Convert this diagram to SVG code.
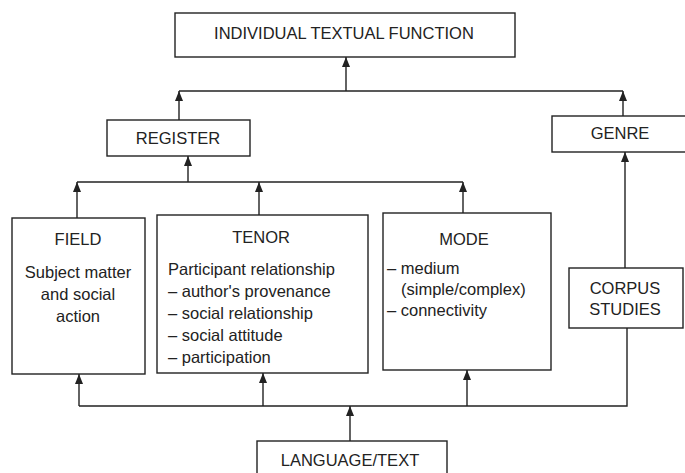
<svg xmlns="http://www.w3.org/2000/svg" width="685" height="473" viewBox="0 0 685 473">
<style>
.box{fill:#fff;stroke:#222;stroke-width:1.4}
.t{font-family:"Liberation Sans",Arial,sans-serif;font-size:16.5px;fill:#222}
.c{text-anchor:middle}
.ln{fill:none;stroke:#222;stroke-width:1.4}
</style>
<defs>
<marker id="ah" markerUnits="userSpaceOnUse" markerWidth="10" markerHeight="8" refX="10" refY="4" orient="auto">
<path d="M0,0 L10,4 L0,8 z" fill="#222"/>
</marker>
</defs>
<rect width="685" height="473" fill="#fff"/>
<g id="connectors">
<path class="ln" d="M346,91 V57" marker-end="url(#ah)"/>
<path class="ln" d="M179,91 H623"/>
<path class="ln" d="M179,120 V91" marker-end="url(#ah)"/>
<path class="ln" d="M623,116 V91" marker-end="url(#ah)"/>
<path class="ln" d="M188,182 V156" marker-end="url(#ah)"/>
<path class="ln" d="M77,182 H463"/>
<path class="ln" d="M77,218 V182" marker-end="url(#ah)"/>
<path class="ln" d="M259,215 V182" marker-end="url(#ah)"/>
<path class="ln" d="M463,213 V182" marker-end="url(#ah)"/>
<path class="ln" d="M625,268 V152" marker-end="url(#ah)"/>
<path class="ln" d="M79,406 H627 V328"/>
<path class="ln" d="M79,406 V374" marker-end="url(#ah)"/>
<path class="ln" d="M263,406 V373" marker-end="url(#ah)"/>
<path class="ln" d="M467,406 V370" marker-end="url(#ah)"/>
<path class="ln" d="M350,441 V406" marker-end="url(#ah)"/>
</g>
<g id="individual-textual-function">
<rect class="box" x="175" y="13" width="340" height="44"/>
<text class="t c" x="344" y="39">INDIVIDUAL TEXTUAL FUNCTION</text>
</g>
<g id="register">
<rect class="box" x="107" y="120" width="143" height="36"/>
<text class="t c" x="178" y="144">REGISTER</text>
</g>
<g id="genre">
<rect class="box" x="552" y="116" width="140" height="36"/>
<text class="t c" x="620" y="139">GENRE</text>
</g>
<g id="field">
<rect class="box" x="12" y="218" width="133" height="156"/>
<text class="t c" x="78" y="245">FIELD</text>
<text class="t c" x="78" y="278">Subject matter</text>
<text class="t c" x="78" y="300">and social</text>
<text class="t c" x="78" y="322">action</text>
</g>
<g id="tenor">
<rect class="box" x="157" y="215" width="211" height="158"/>
<text class="t c" x="261" y="243">TENOR</text>
<text class="t" x="168" y="275">Participant relationship</text>
<text class="t" x="168" y="297">– author's provenance</text>
<text class="t" x="168" y="319">– social relationship</text>
<text class="t" x="168" y="341">– social attitude</text>
<text class="t" x="168" y="363">– participation</text>
</g>
<g id="mode">
<rect class="box" x="383" y="213" width="168" height="157"/>
<text class="t c" x="464" y="245">MODE</text>
<text class="t" x="387" y="274">– medium</text>
<text class="t" x="401" y="295">(simple/complex)</text>
<text class="t" x="387" y="316">– connectivity</text>
</g>
<g id="corpus-studies">
<rect class="box" x="569" y="268" width="114" height="60"/>
<text class="t c" x="625" y="294">CORPUS</text>
<text class="t c" x="625" y="315">STUDIES</text>
</g>
<g id="language-text">
<rect class="box" x="257" y="441" width="190" height="40"/>
<text class="t c" x="350" y="466">LANGUAGE/TEXT</text>
</g>
</svg>
